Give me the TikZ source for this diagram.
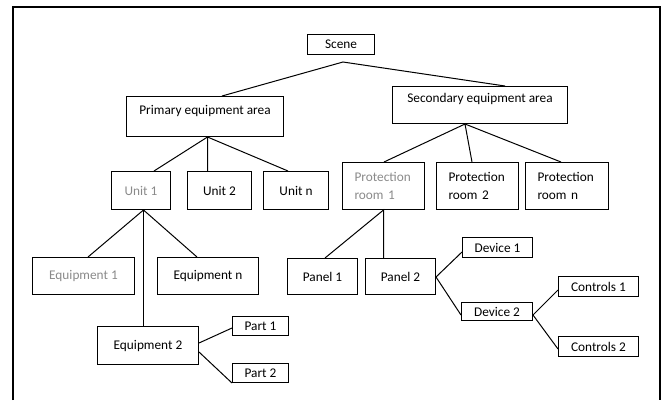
\documentclass[tikz,border=0pt]{standalone}
\usepackage{fontspec}
\setmainfont{Carlito}
\newfontfamily\fadedfont[Color=8A8A8A]{Carlito}
\begin{document}
\begin{tikzpicture}[x=1pt,y=-1pt,
  box/.style={draw=black, line width=1pt, inner sep=0pt, font=\fontsize{13.3}{18}\selectfont},
  faded/.style={font=\fontsize{13.3}{18}\fadedfont},
  conn/.style={line width=1pt, draw=black}]
\useasboundingbox (0,0) rectangle (662,400);
\draw[line width=2pt] (13,400) -- (13,7) -- (660,7) -- (660,400);
% top
\node[box, minimum width=67, minimum height=20] (scene) at (341,44.5) {Scene};
\coordinate (fork) at (343,62);
\node[box, minimum width=157, text height=17.5, text depth=22.5] (prim) at (205,116.5) {Primary equipment area};
\node[box, minimum width=175, text height=15.5, text depth=21.5] (sec) at (480,105) {Secondary equipment area};
% units
\node[box, faded, minimum width=59, minimum height=38] (u1) at (141,190.5) {Unit 1};
\node[box, minimum width=64, minimum height=38] (u2) at (219.5,190.5) {Unit 2\hspace{6pt}};
\node[box, minimum width=65, minimum height=38] (un) at (296,190.5) {Unit n\hspace{4pt}};
% protection rooms
\node[box, faded, minimum width=82, minimum height=47, align=left, text width=58, inner xsep=12] (p1) at (383.5,186) {Protection\\room 1};
\node[box, minimum width=82, minimum height=47, align=left, text width=58, inner xsep=12] (p2) at (477.5,186) {Protection\\room 2};
\node[box, minimum width=83, minimum height=47, align=left, text width=59, inner xsep=12] (pn) at (567,186) {Protection\\room n};
% equipment
\node[box, faded, minimum width=102, minimum height=37] (e1) at (83.5,276) {Equipment 1\hspace{4pt}};
\node[box, minimum width=101, minimum height=37] (en) at (208,276) {Equipment n\hspace{6pt}};
\node[box, minimum width=101, minimum height=38] (e2) at (148,345.5) {Equipment 2\hspace{5pt}};
\node[box, minimum width=56, minimum height=19] (pa1) at (260.5,326) {Part 1};
\node[box, minimum width=56, minimum height=19] (pa2) at (260.5,373) {Part 2};
% panels
\node[box, minimum width=70, minimum height=36] (pn1) at (322.5,276.5) {Panel 1};
\node[box, minimum width=70, minimum height=36] (pn2) at (400.5,276.5) {Panel 2\hspace{5pt}};
\node[box, minimum width=70, minimum height=20] (d1) at (497.5,247.5) {Device 1};
\node[box, minimum width=71, minimum height=18] (d2) at (497,311.5) {Device 2};
\node[box, minimum width=80, minimum height=20] (c1) at (598.5,286.5) {Controls 1};
\node[box, minimum width=80, minimum height=20] (c2) at (598.5,346.5) {Controls 2};
% connectors
\draw[conn] (prim.north -| 222,0) -- (fork) -- (sec.north -| 505,0);
\draw[conn] (u1.north -| 154,0) -- (prim.south -| 207.5,0) -- (u2.north -| 207.5,0);
\draw[conn] (prim.south -| 207.5,0) -- (un.north -| 288,0);
\draw[conn] (p1.north -| 384,0) -- (sec.south -| 465,0) -- (p2.north -| 472,0);
\draw[conn] (sec.south -| 465,0) -- (pn.north -| 561,0);
\draw[conn] (e1.north -| 88,0) -- (u1.south -| 143.5,0) -- (en.north -| 197,0);
\draw[conn] (u1.south -| 143.5,0) -- (e2.north -| 143.5,0);
\draw[conn] (pa1.west |- 0,328) -- (e2.east |- 0,343);
\draw[conn] (e2.east |- 0,352) -- (pa2.south west);
\draw[conn] (pn1.north -| 325,0) -- (p1.south -| 383.5,0) -- (pn2.north -| 383.5,0);
\draw[conn] (d1.west |- 0,252) -- (pn2.east |- 0,277) -- (d2.west |- 0,315);
\draw[conn] (c1.west |- 0,290) -- (d2.east |- 0,315) -- (c2.west |- 0,349);
\end{tikzpicture}
\end{document}
